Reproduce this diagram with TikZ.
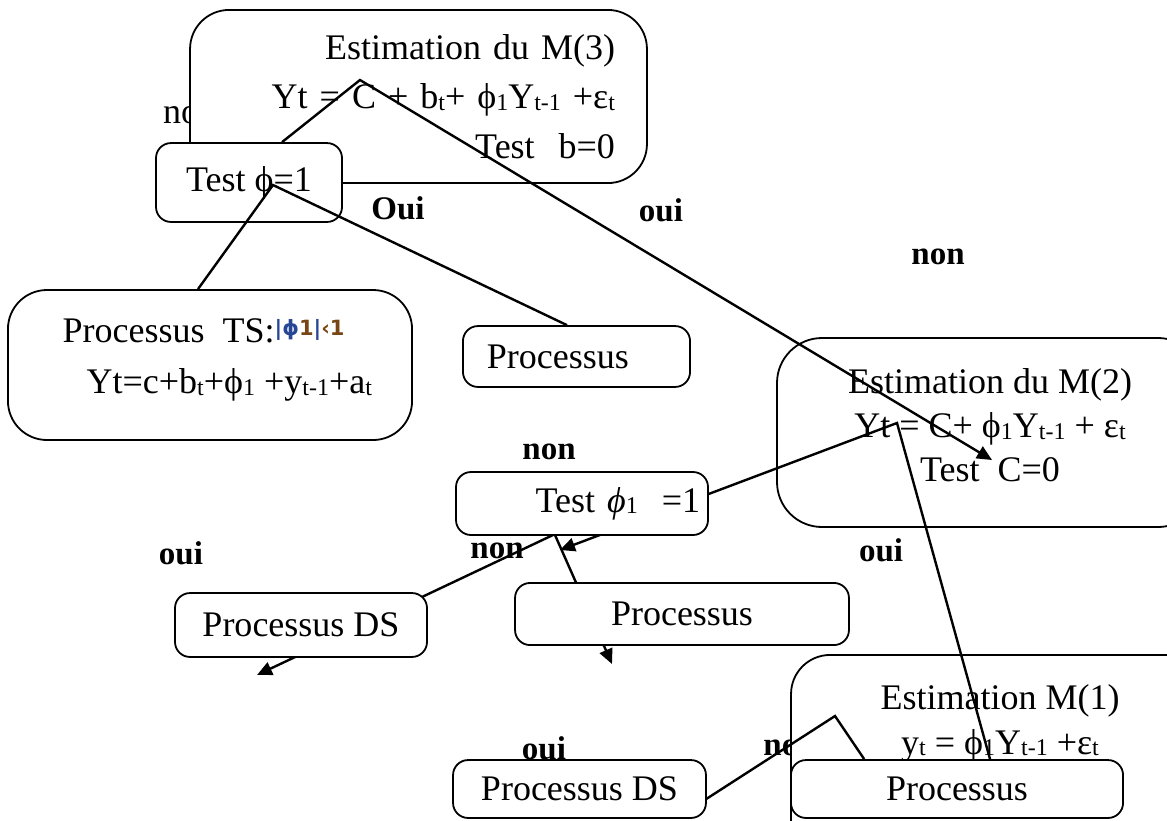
\documentclass[tikz,border=0pt]{standalone}
\usepackage{fontspec}
\setmainfont{Liberation Serif}
\newfontfamily\symfont{DejaVu Sans}
\usepackage{xcolor}
\usepackage{tikz}
\usetikzlibrary{arrows.meta,calc}
\definecolor{phibleu}{RGB}{40,70,150}
\definecolor{unbrun}{RGB}{120,70,20}
\newcommand\petit[1]{\raisebox{-0.5pt}{\fontsize{8}{8}\selectfont #1}}

\begin{document}
\begin{tikzpicture}[x=0.33333pt, y=-0.33333pt,
  boite/.style={draw, fill=white, line width=0.6pt, rounded corners=5pt, inner sep=0pt,
    font=\fontsize{12}{16.5}\selectfont},
  grande/.style={boite, rounded corners=13pt},
  rep/.style={font=\bfseries\fontsize{11}{13}\selectfont, inner sep=0pt},
  fil/.style={line width=0.8pt},
  fleche/.style={fil, -{Triangle[length=5pt,width=4.5pt]}}]
  \useasboundingbox (0,0) rectangle (1167,820);
  % Hidden labels
  \node[inner sep=0pt, font=\fontsize{12}{14}\selectfont] (nonA) at (190,115) {non};
  \node[rep] (nonH) at (790,748) {non};
  % Upper boxes
  \node[grande, minimum width=152.3pt, minimum height=57.7pt, text width=131pt, align=right]
    (m3) at (418.5,96.5) {Estimation du M(3)\\ Yt = C + b\petit{t}+ ϕ\petit{1}Y\petit{t-1} +ε\petit{t}\\ Test~ b=0};
  \node[boite, minimum width=62pt, minimum height=26.3pt] (testA) at (249,182.5) {Test ϕ=1};
  \node[grande, minimum width=134.7pt, minimum height=50pt] (ts) at (210,365) {};
  \node[anchor=west, align=left, inner sep=0pt, font=\fontsize{12}{17}\selectfont]
    (tsTexte) at ($(ts.west)+(55,-5)$)
    {Processus~~TS:\raisebox{2.5pt}{\symfont\bfseries\fontsize{7}{7}\selectfont\textcolor{phibleu}{|ϕ}\textcolor{unbrun}{1}\textcolor{phibleu}{|}\textcolor{unbrun}{‹1}}\\
     \hspace*{8pt}Yt=c+b\petit{t}+ϕ\petit{1} +y\petit{t-1}+a\petit{t}};
  \node[boite, minimum width=75.7pt, minimum height=20.3pt, text width=59.7pt, align=left]
    (procA) at (576.5,356.5) {Processus};
  % Model boxes on the right
  \node[grande, rounded corners=15pt, minimum width=142pt, minimum height=63pt, align=center,
    font=\fontsize{12}{14.7}\selectfont, text depth=5pt] (m2) at (990,432.5)
    {Estimation du M(2)\\ Yt = C+ ϕ\petit{1}Y\petit{t-1} + ε\petit{t}\\ Test~ C=0};
  \node[grande, minimum width=139.3pt, minimum height=71.7pt, align=center,
    font=\fontsize{12}{15}\selectfont, text depth=29pt] (m1) at (1000,762.5)
    {Estimation M(1)\\ y\petit{t} = ϕ\petit{1}Y\petit{t-1} +ε\petit{t}};
  % Define coordinates
  \coordinate (k1) at (360,80);
  \coordinate (e1) at (992,460);
  \coordinate (k2) at (273,185);
  \coordinate (k3) at (897,423);
  \coordinate (e3) at (560,550);
  \coordinate (e4) at (257,675);
  \coordinate (e6) at (612,664);
  \coordinate (k8) at (835,716);
  % Lines behind the lower boxes
  \draw[fleche] ($(m1.north)+(-10,105)$) -- (k3) -- (e3);
  \draw[fleche] ($(e3)+(-7,-15)$) -- (e4);
  \draw[fleche] ($(e3)+(-5,-15)$) -- (e6);
  \draw[fil] ($(m1.north west)+(-84,145)$) -- (k8) -- ($(m1.north west)+(74,105)$);
  % Lower boxes
  \node[boite, minimum width=84pt, minimum height=21pt, text width=78.7pt, align=right]
    (testB) at (582,503.5) {Test \textit{ϕ}\petit{1} ~=1};
  \node[boite, minimum width=84pt, minimum height=21.3pt] (dsA) at (301,625) {Processus DS};
  \node[boite, minimum width=111.3pt, minimum height=20.7pt] (procB) at (682,614) {Processus};
  \node[boite, minimum width=110.7pt, minimum height=19.3pt] (procC) at (957,789) {Processus};
  \node[boite, minimum width=84.3pt, minimum height=19.3pt] (dsB) at (579.5,789) {Processus DS};
  % Lines on top
  \draw[fleche] ($(testA.north)+(33,0)$) -- (k1) -- (e1);
  \draw[fil] ($(ts.north)+(-12,0)$) -- (k2) -- ($(procA.north)+(-9.5,0)$);
  % Answers
  \node[rep] (oui1) at (398,208) {Oui};
  \node[rep] (oui2) at (661,210) {oui};
  \node[rep] (non1) at (938,257) {non};
  \node[rep] (non2) at (549,452) {non};
  \node[rep] (oui3) at (181,553) {oui};
  \node[rep] (non3) at (497,551) {non};
  \node[rep] (oui4) at (881,550) {oui};
  \node[rep] (oui5) at (544,748) {oui};
\end{tikzpicture}
\end{document}
